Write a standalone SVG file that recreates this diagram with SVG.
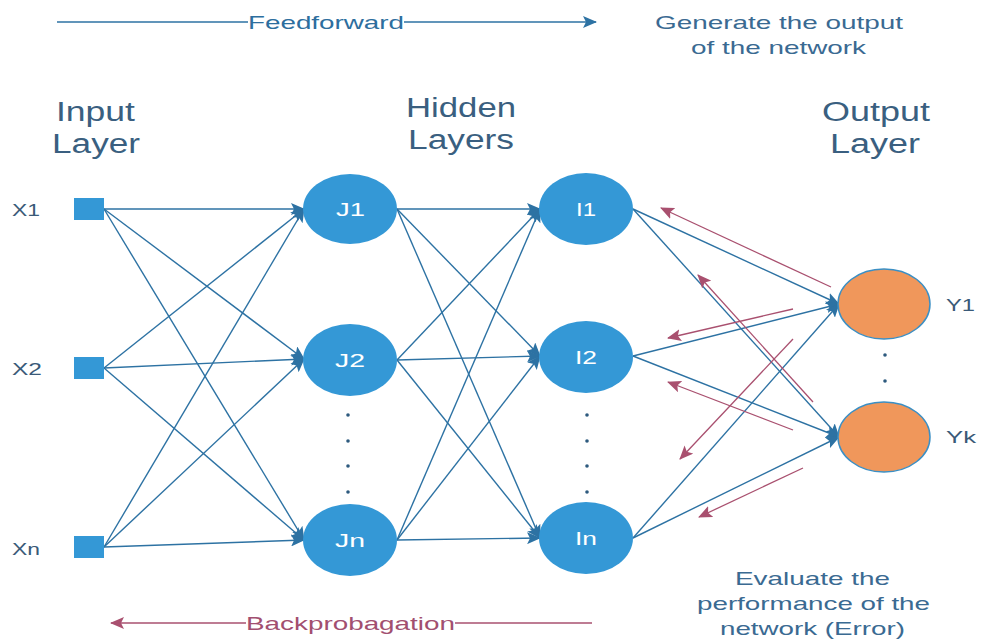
<svg xmlns="http://www.w3.org/2000/svg" width="982" height="642" viewBox="0 0 982 642">
<style>
text{font-family:"Liberation Sans",Arial,sans-serif}
.ff{stroke:#2d72a3;stroke-width:1.4;fill:none}
.bp{stroke:#a9506f;stroke-width:1.3;fill:none}
.node{fill:#3498d6}
.out{fill:#f0975b;stroke:#3b8fc4;stroke-width:1.5}
.nl{fill:#ffffff;font-size:19px}
.lab{fill:#3a5a78;font-size:17px}
.title{fill:#3a5f80;font-size:27px}
.note{fill:#3a6a92;font-size:19px}
.dot{fill:#2d5a7e}
</style>
<defs>
<marker id="ab" markerUnits="userSpaceOnUse" markerWidth="14" markerHeight="12" refX="13" refY="6" orient="auto">
<path d="M0,0 L14,6 L0,12 L3,6 Z" fill="#2d72a3"/>
</marker>
<marker id="ar" markerUnits="userSpaceOnUse" markerWidth="14" markerHeight="12" refX="13" refY="6" orient="auto">
<path d="M0,0 L14,6 L0,12 L3,6 Z" fill="#a9506f"/>
</marker>
</defs>

<g id="connectors">
<line class="ff" x1="104" y1="209" x2="304" y2="209" marker-end="url(#ab)"/>
<line class="ff" x1="104" y1="209" x2="304" y2="359" marker-end="url(#ab)"/>
<line class="ff" x1="104" y1="209" x2="304" y2="540" marker-end="url(#ab)"/>
<line class="ff" x1="104" y1="368" x2="304" y2="209" marker-end="url(#ab)"/>
<line class="ff" x1="104" y1="368" x2="304" y2="359" marker-end="url(#ab)"/>
<line class="ff" x1="104" y1="368" x2="304" y2="540" marker-end="url(#ab)"/>
<line class="ff" x1="104" y1="547" x2="304" y2="209" marker-end="url(#ab)"/>
<line class="ff" x1="104" y1="547" x2="304" y2="359" marker-end="url(#ab)"/>
<line class="ff" x1="104" y1="547" x2="304" y2="540" marker-end="url(#ab)"/>
<line class="ff" x1="397" y1="209" x2="540" y2="209" marker-end="url(#ab)"/>
<line class="ff" x1="397" y1="209" x2="540" y2="356" marker-end="url(#ab)"/>
<line class="ff" x1="397" y1="209" x2="540" y2="538" marker-end="url(#ab)"/>
<line class="ff" x1="397" y1="360" x2="540" y2="209" marker-end="url(#ab)"/>
<line class="ff" x1="397" y1="360" x2="540" y2="356" marker-end="url(#ab)"/>
<line class="ff" x1="397" y1="360" x2="540" y2="538" marker-end="url(#ab)"/>
<line class="ff" x1="397" y1="540" x2="540" y2="209" marker-end="url(#ab)"/>
<line class="ff" x1="397" y1="540" x2="540" y2="356" marker-end="url(#ab)"/>
<line class="ff" x1="397" y1="540" x2="540" y2="538" marker-end="url(#ab)"/>
<line class="ff" x1="633" y1="209" x2="839" y2="304" marker-end="url(#ab)"/>
<line class="ff" x1="633" y1="209" x2="839" y2="437" marker-end="url(#ab)"/>
<line class="ff" x1="633" y1="356" x2="839" y2="304" marker-end="url(#ab)"/>
<line class="ff" x1="633" y1="356" x2="839" y2="437" marker-end="url(#ab)"/>
<line class="ff" x1="633" y1="538" x2="839" y2="304" marker-end="url(#ab)"/>
<line class="ff" x1="633" y1="538" x2="839" y2="437" marker-end="url(#ab)"/>
<line class="bp" x1="831" y1="287" x2="661" y2="208" marker-end="url(#ar)"/>
<line class="bp" x1="813" y1="402" x2="698" y2="275" marker-end="url(#ar)"/>
<line class="bp" x1="793" y1="309" x2="668" y2="338" marker-end="url(#ar)"/>
<line class="bp" x1="793" y1="339" x2="680" y2="459" marker-end="url(#ar)"/>
<line class="bp" x1="793" y1="430" x2="668" y2="382" marker-end="url(#ar)"/>
<line class="bp" x1="803" y1="468" x2="699" y2="517" marker-end="url(#ar)"/>
<line class="ff" x1="57" y1="22" x2="248" y2="22"/>
<line class="ff" x1="404" y1="22" x2="596" y2="22" marker-end="url(#ab)"/>
<line class="bp" x1="455" y1="623" x2="592" y2="623"/>
<line class="bp" x1="246" y1="623" x2="111" y2="623" marker-end="url(#ar)"/>
</g>

<text x="248" y="29" textLength="156" lengthAdjust="spacingAndGlyphs" style="fill:#2d6e9e;font-size:19px">Feedforward</text>
<text x="246" y="630" textLength="209" lengthAdjust="spacingAndGlyphs" style="fill:#a24f70;font-size:19px">Backprobagation</text>
<text class="note" x="655" y="29" textLength="248" lengthAdjust="spacingAndGlyphs">Generate the output</text>
<text class="note" x="691" y="54" textLength="175" lengthAdjust="spacingAndGlyphs">of the network</text>
<text class="note" x="735" y="585" textLength="155" lengthAdjust="spacingAndGlyphs">Evaluate the</text>
<text class="note" x="697" y="610" textLength="233" lengthAdjust="spacingAndGlyphs">performance of the</text>
<text class="note" x="720" y="635" textLength="185" lengthAdjust="spacingAndGlyphs">network (Error)</text>

<text class="title" x="56" y="121" textLength="79" lengthAdjust="spacingAndGlyphs">Input</text>
<text class="title" x="52" y="153" textLength="88" lengthAdjust="spacingAndGlyphs">Layer</text>
<text class="title" x="406" y="117" textLength="110" lengthAdjust="spacingAndGlyphs">Hidden</text>
<text class="title" x="408" y="149" textLength="106" lengthAdjust="spacingAndGlyphs">Layers</text>
<text class="title" x="822" y="121" textLength="108" lengthAdjust="spacingAndGlyphs">Output</text>
<text class="title" x="830" y="153" textLength="90" lengthAdjust="spacingAndGlyphs">Layer</text>

<g id="X1"><rect class="node" x="74" y="198" width="30" height="22"/><text class="lab" x="12" y="216" textLength="28" lengthAdjust="spacingAndGlyphs">X1</text></g>
<g id="X2"><rect class="node" x="74" y="357" width="30" height="22"/><text class="lab" x="12" y="375" textLength="30" lengthAdjust="spacingAndGlyphs">X2</text></g>
<g id="Xn"><rect class="node" x="74" y="536" width="30" height="22"/><text class="lab" x="12" y="555" textLength="28" lengthAdjust="spacingAndGlyphs">Xn</text></g>

<g id="J1"><ellipse class="node" cx="350" cy="209" rx="47" ry="35"/><text class="nl" x="336" y="216" textLength="29" lengthAdjust="spacingAndGlyphs">J1</text></g>
<g id="J2"><ellipse class="node" cx="350" cy="360" rx="47" ry="36"/><text class="nl" x="335" y="367" textLength="30" lengthAdjust="spacingAndGlyphs">J2</text></g>
<g id="Jn"><ellipse class="node" cx="350" cy="540" rx="47" ry="36"/><text class="nl" x="335" y="547" textLength="30" lengthAdjust="spacingAndGlyphs">Jn</text></g>

<g id="I1"><ellipse class="node" cx="586" cy="209" rx="47" ry="36"/><text class="nl" x="576" y="216" textLength="20" lengthAdjust="spacingAndGlyphs">I1</text></g>
<g id="I2"><ellipse class="node" cx="586" cy="357" rx="47" ry="36"/><text class="nl" x="575" y="364" textLength="22" lengthAdjust="spacingAndGlyphs">I2</text></g>
<g id="In"><ellipse class="node" cx="586" cy="538" rx="47" ry="36"/><text class="nl" x="575" y="545" textLength="22" lengthAdjust="spacingAndGlyphs">In</text></g>

<g id="Y1"><ellipse class="out" cx="884" cy="304" rx="46" ry="35"/><text class="lab" x="946" y="311" textLength="29" lengthAdjust="spacingAndGlyphs">Y1</text></g>
<g id="Yk"><ellipse class="out" cx="884" cy="437" rx="46" ry="35"/><text class="lab" x="946" y="443" textLength="30" lengthAdjust="spacingAndGlyphs">Yk</text></g>

<g id="dots">
<circle class="dot" cx="348" cy="415" r="1.8"/><circle class="dot" cx="348" cy="441" r="1.8"/><circle class="dot" cx="348" cy="466" r="1.8"/><circle class="dot" cx="348" cy="492" r="1.8"/>
<circle class="dot" cx="587" cy="415" r="1.8"/><circle class="dot" cx="587" cy="441" r="1.8"/><circle class="dot" cx="587" cy="466" r="1.8"/><circle class="dot" cx="587" cy="492" r="1.8"/>
<circle class="dot" cx="885" cy="355" r="1.8"/><circle class="dot" cx="885" cy="381" r="1.8"/>
</g>
</svg>
